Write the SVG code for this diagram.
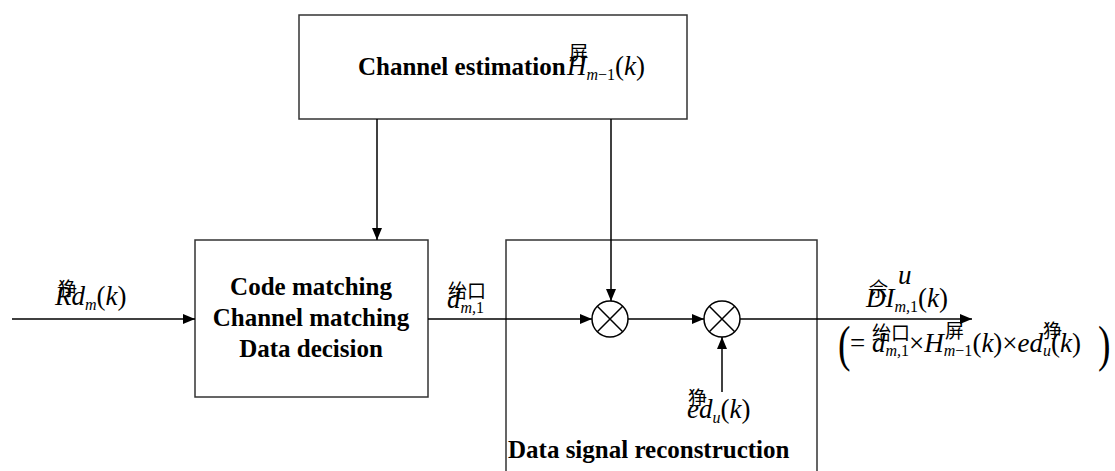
<svg xmlns="http://www.w3.org/2000/svg" width="1115" height="471" viewBox="0 0 1115 471">
  <style>
    .box { fill: #fff; stroke: #333; stroke-width: 1.5; }
    .wire { fill: none; stroke: #000; stroke-width: 1.5; }
    .mix { fill: #fff; stroke: #000; stroke-width: 1.5; }
    text { font-family: "Liberation Serif", "Times New Roman", serif; fill: #000; }
    .title { font-weight: bold; font-size: 25px; }
    .math { font-style: italic; font-size: 27px; }
    .up { font-style: normal; }
    .sub { font-size: 16px; }
    .cjk { font-family: "Noto Sans CJK SC", sans-serif; font-size: 19px; }
  </style>
  <defs>
    <marker id="arrow" viewBox="0 0 12 10" refX="12" refY="5" markerWidth="12" markerHeight="10" markerUnits="userSpaceOnUse" orient="auto">
      <path d="M0,0 L12,5 L0,10 Z" fill="#000"/>
    </marker>
  </defs>

  <!-- channel estimation block -->
  <g id="channel-estimation">
    <rect class="box" x="299" y="15" width="388" height="104"/>
    <text class="title" x="358" y="75">Channel estimation</text>
    <text class="math" x="567" y="75">H<tspan class="sub" dy="5">m</tspan><tspan class="sub up">−1</tspan><tspan class="up" dy="-5">(</tspan>k<tspan class="up">)</tspan></text>
    <text class="cjk" x="569" y="60" font-size="16">屏</text>
  </g>

  <!-- matching / decision block -->
  <g id="matching">
    <rect class="box" x="195" y="240" width="233" height="157"/>
    <text class="title" x="311" y="295" text-anchor="middle">Code matching</text>
    <text class="title" x="311" y="326" text-anchor="middle">Channel matching</text>
    <text class="title" x="311" y="357" text-anchor="middle">Data decision</text>
  </g>

  <!-- reconstruction block (runs past the bottom edge) -->
  <g id="reconstruction">
    <path class="box" d="M506,471 V240 H817 V471"/>
    <text class="title" x="508" y="458" font-size="26">Data signal reconstruction</text>
  </g>

  <!-- multipliers -->
  <g id="mult-1">
    <circle class="mix" cx="610" cy="319" r="18"/>
    <path class="wire" d="M597.3,306.3 L622.7,331.7 M622.7,306.3 L597.3,331.7"/>
  </g>
  <g id="mult-2">
    <circle class="mix" cx="722" cy="319" r="18"/>
    <path class="wire" d="M709.3,306.3 L734.7,331.7 M734.7,306.3 L709.3,331.7"/>
  </g>

  <!-- connectors -->
  <g id="connectors">
    <path class="wire" d="M12,319 H195" marker-end="url(#arrow)"/>
    <path class="wire" d="M428,319 H592" marker-end="url(#arrow)"/>
    <path class="wire" d="M628,319 H704" marker-end="url(#arrow)"/>
    <path class="wire" d="M740,319 H972" marker-end="url(#arrow)"/>
    <path class="wire" d="M377,119 V240" marker-end="url(#arrow)"/>
    <path class="wire" d="M611,119 V301" marker-end="url(#arrow)"/>
    <path class="wire" d="M722,392 V337" marker-end="url(#arrow)"/>
  </g>

  <!-- signal labels -->
  <g id="label-input">
    <text class="math" x="55" y="305">Rd<tspan class="sub" dy="5">m</tspan><tspan class="up" dy="-5">(</tspan>k<tspan class="up">)</tspan></text>
    <text class="cjk" x="58" y="296">狰</text>
  </g>
  <g id="label-decided">
    <text class="math" x="447" y="308">d<tspan class="sub" dy="5">m,</tspan><tspan class="sub up">1</tspan></text>
    <text class="cjk" x="448" y="298" font-size="18">绐口</text>
  </g>
  <g id="label-code">
    <text class="math" x="687" y="418">ed<tspan class="sub" dy="5">u</tspan><tspan class="up" dy="-5">(</tspan>k<tspan class="up">)</tspan></text>
    <text class="cjk" x="688" y="405" font-size="18">狰</text>
  </g>
  <g id="label-output">
    <text class="math" x="866" y="307">DI<tspan class="sub" dy="5">m,</tspan><tspan class="sub up">1</tspan><tspan class="up" dy="-5">(</tspan>k<tspan class="up">)</tspan></text>
    <text class="cjk" x="869" y="296" font-size="17">佘</text>
    <text class="math" x="898" y="284" font-size="14">u</text>
  </g>
  <g id="label-product">
    <text class="up" transform="translate(838,361) scale(0.75,1)" font-size="50">(</text>
    <text class="up" transform="translate(1098,361) scale(0.75,1)" font-size="50">)</text>
    <text class="math" x="850" y="352" font-size="25"><tspan class="up">= </tspan>d<tspan class="sub" dy="4">m,</tspan><tspan class="sub up">1</tspan><tspan class="up" dy="-4">×</tspan>H<tspan class="sub" dy="4">m</tspan><tspan class="sub up">−1</tspan><tspan class="up" dy="-4">(</tspan>k<tspan class="up">)×</tspan>ed<tspan class="sub" dy="4">u</tspan><tspan class="up" dy="-4">(</tspan>k<tspan class="up">)</tspan></text>
    <text class="cjk" x="872" y="340" font-size="17">绐口</text>
    <text class="cjk" x="945" y="338" font-size="16">屏</text>
    <text class="cjk" x="1043" y="338" font-size="17">狰</text>
  </g>
</svg>
